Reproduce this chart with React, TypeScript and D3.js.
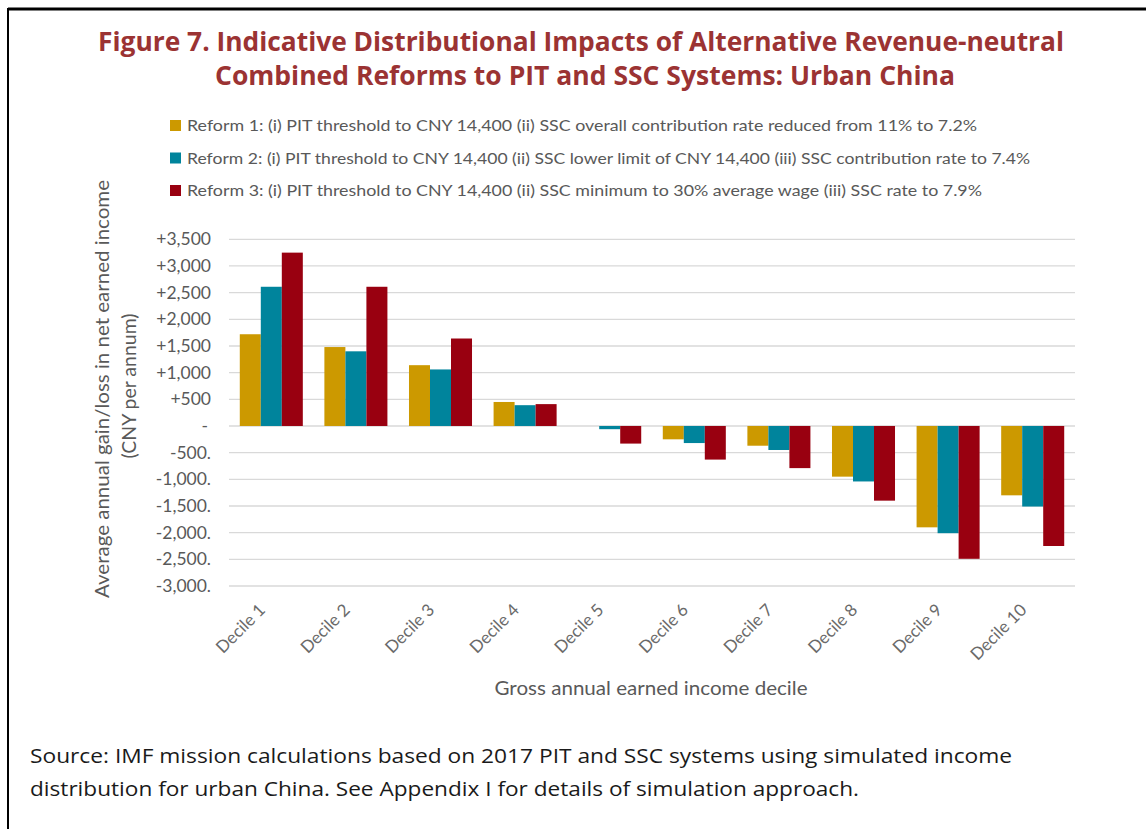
import React from "react";
import * as d3 from "d3";

const deciles = ["Decile 1","Decile 2","Decile 3","Decile 4","Decile 5","Decile 6","Decile 7","Decile 8","Decile 9","Decile 10"];
const seriesNames = ["Reform 1","Reform 2","Reform 3"];
const reform1 = [1720, 1480, 1140, 450, 0, -250, -370, -950, -1900, -1300];
const reform2 = [2610, 1400, 1060, 390, -60, -320, -450, -1040, -2010, -1510];
const reform3 = [3250, 2610, 1640, 410, -330, -630, -790, -1400, -2490, -2250];
const legendLabels = [
  "Reform 1: (i) PIT threshold to CNY 14,400 (ii) SSC overall contribution rate reduced from 11% to 7.2%",
  "Reform 2: (i) PIT threshold to CNY 14,400 (ii) SSC lower limit of CNY 14,400 (iii) SSC contribution rate to 7.4%",
  "Reform 3: (i) PIT threshold to CNY 14,400 (ii) SSC minimum to 30% average wage (iii) SSC rate to 7.9%",
];
const yTicks = [3500, 3000, 2500, 2000, 1500, 1000, 500, 0, -500, -1000, -1500, -2000, -2500, -3000];
const colors = ["#CC9900", "#00849C", "#990010"];

const fmtTick = (v: number) => {
  if (v === 0) return "-";
  const s = d3.format(",")(Math.abs(v));
  return v > 0 ? "+" + s : "-" + s + ".";
};

export default function App() {
  const W = 1146, H = 829;
  const x = d3.scaleBand<string>().domain(deciles).range([229, 1075]).paddingInner(0.255).paddingOuter(0.1275);
  const xs = d3.scaleBand<string>().domain(seriesNames).range([0, x.bandwidth()]).padding(0);
  const y = d3.scaleLinear().domain([-3000, 3500]).range([586, 239.3]);
  const all = [reform1, reform2, reform3];
  const gray = "#595959";
  const font = "Lato, 'Open Sans', sans-serif";
  const legendLens = [790, 843, 795];

  return (
    <div style={{ position: "absolute", left: 0, top: 0 }}>
      <svg width={W} height={H} style={{ display: "block", background: "#fff" }}>
        {/* frame */}
        <line x1={8} x2={W} y1={9} y2={9} stroke="#000" strokeWidth={3} />
        <line x1={8} x2={8} y1={8} y2={H} stroke="#000" strokeWidth={2} />

        {/* title */}
        <text x={581} y={51} textAnchor="middle" fill="#9B3333" fontFamily="'Open Sans', sans-serif" fontWeight="bold" fontSize={27} textLength={966} lengthAdjust="spacingAndGlyphs">
          Figure 7. Indicative Distributional Impacts of Alternative Revenue-neutral
        </text>
        <text x={585} y={85} textAnchor="middle" fill="#9B3333" fontFamily="'Open Sans', sans-serif" fontWeight="bold" fontSize={27} textLength={740} lengthAdjust="spacingAndGlyphs">
          Combined Reforms to PIT and SSC Systems: Urban China
        </text>

        {/* legend */}
        {legendLabels.map((l, i) => (
          <g key={l}>
            <rect x={170} y={120 + i * 32.5} width={11} height={11} fill={colors[i]} />
            <text x={187} y={131 + i * 32.5} fill={gray} fontFamily={font} fontSize={16} textLength={legendLens[i]} lengthAdjust="spacingAndGlyphs">{l}</text>
          </g>
        ))}

        {/* gridlines */}
        {yTicks.map((t) => (
          <line key={t} x1={229} x2={1075} y1={y(t)} y2={y(t)} stroke="#D9D9D9" strokeWidth={1.3} />
        ))}

        {/* bars */}
        {deciles.map((d, i) => (
          <g key={d} transform={`translate(${x(d)},0)`}>
            {all.map((s, j) => (
              <rect key={j} x={xs(seriesNames[j])} width={xs.bandwidth()}
                y={Math.min(y(0), y(s[i]))} height={Math.abs(y(s[i]) - y(0))} fill={colors[j]} />
            ))}
          </g>
        ))}

        {/* y tick labels */}
        {yTicks.map((t) => (
          <text key={t} x={t === 0 ? 208 : 211} y={y(t) + 6} textAnchor="end" fill={gray} fontFamily={font} fontSize={17.5}>{fmtTick(t)}</text>
        ))}

        {/* x tick labels */}
        {deciles.map((d) => (
          <text key={d} transform={`translate(${(x(d) as number) + x.bandwidth() / 2 - 5},${611}) rotate(-45)`} textAnchor="end" fill="#6a6a6a" fontFamily={font} fontSize={17}>{d}</text>
        ))}

        {/* axis titles */}
        <text transform="translate(109,389) rotate(-90)" textAnchor="middle" fill={gray} fontFamily={font} fontSize={19} textLength={418} lengthAdjust="spacingAndGlyphs">Average annual gain/loss  in net earned income</text>
        <text transform="translate(136,386) rotate(-90)" textAnchor="middle" fill={gray} fontFamily={font} fontSize={19} textLength={145} lengthAdjust="spacingAndGlyphs">(CNY per annum)</text>
        <text x={651} y={695} textAnchor="middle" fill={gray} fontFamily={font} fontSize={19} textLength={313} lengthAdjust="spacingAndGlyphs">Gross annual earned income decile</text>

        {/* source */}
        <text x={30} y={763} fill="#1a1a1a" fontFamily="'Open Sans', sans-serif" fontSize={19.5} textLength={982} lengthAdjust="spacingAndGlyphs">Source: IMF mission calculations based on 2017 PIT and SSC systems using simulated income</text>
        <text x={30} y={796} fill="#1a1a1a" fontFamily="'Open Sans', sans-serif" fontSize={19.5} textLength={829} lengthAdjust="spacingAndGlyphs">distribution for urban China. See Appendix I for details of simulation approach.</text>
      </svg>
    </div>
  );
}
